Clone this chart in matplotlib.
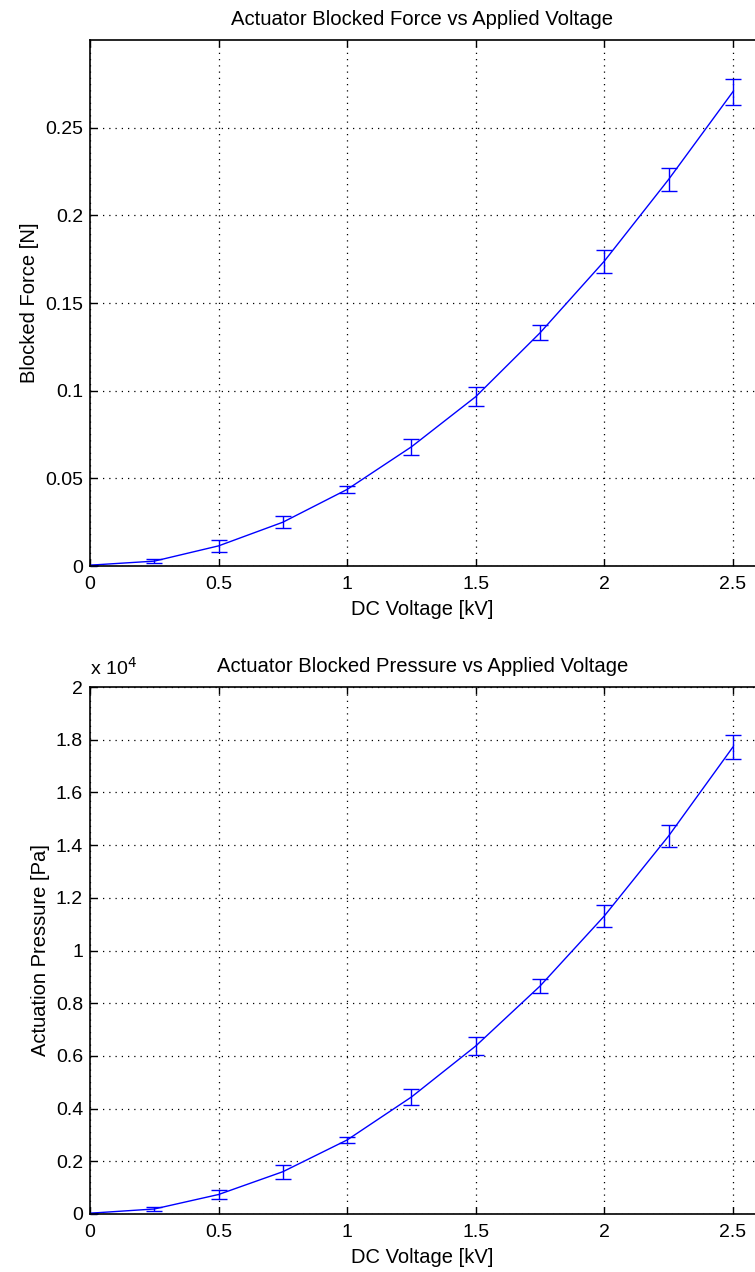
import matplotlib
matplotlib.use("Agg")
import matplotlib.pyplot as plt

plt.rcParams["font.family"] = ["Liberation Sans", "DejaVu Sans"]
plt.rcParams["font.size"] = 14

# data
voltage = [0, 0.25, 0.5, 0.75, 1.0, 1.25, 1.5, 1.75, 2.0, 2.25, 2.5]
force = [0.0005, 0.0028, 0.0115, 0.0250, 0.0437, 0.0680, 0.0966, 0.1330, 0.1739, 0.2205, 0.2705]
force_err = [0.0003, 0.0010, 0.0034, 0.0035, 0.0022, 0.0045, 0.0055, 0.0043, 0.0065, 0.0066, 0.0073]
pressure = [30, 190, 740, 1605, 2810, 4440, 6376, 8650, 11310, 14345, 17720]
pressure_err = [20, 70, 170, 265, 130, 300, 330, 280, 420, 435, 455]

x_ticks = [0, 0.5, 1, 1.5, 2, 2.5]
x_labels = ["0", "0.5", "1", "1.5", "2", "2.5"]
f_ticks = [0, 0.05, 0.1, 0.15, 0.2, 0.25]
f_labels = ["0", "0.05", "0.1", "0.15", "0.2", "0.25"]
p_ticks = [0, 2000, 4000, 6000, 8000, 10000, 12000, 14000, 16000, 18000, 20000]
p_labels = ["0", "0.2", "0.4", "0.6", "0.8", "1", "1.2", "1.4", "1.6", "1.8", "2"]

fig = plt.figure(figsize=(7.55, 12.72), dpi=100)
ax1 = fig.add_axes([0.1192, 0.555, 0.8808, 0.4135])
ax2 = fig.add_axes([0.1192, 0.0456, 0.8808, 0.4143])


def style(ax):
    ax.set_xlim(0, 2.586)
    ax.set_xticks(x_ticks)
    ax.set_xticklabels(x_labels)
    ax.grid(True, color="black", linestyle=(0, (1, 4)), linewidth=0.9)
    ax.tick_params(direction="in", top=True, right=False, length=5, width=1,
                   labelsize=14, pad=5)
    ax.tick_params(axis="x", pad=7)
    ax.spines["right"].set_visible(False)
    for s in ["left", "bottom", "top"]:
        ax.spines[s].set_linewidth(1.2)


ax1.errorbar(voltage, force, yerr=force_err, color="blue", lw=1, capsize=6, elinewidth=1, capthick=1)
style(ax1)
ax1.set_ylim(0, 0.3)
ax1.set_yticks(f_ticks)
ax1.set_yticklabels(f_labels)
ax1.set_title("Actuator Blocked Force vs Applied Voltage", fontsize=14.6, pad=11)
ax1.set_xlabel("DC Voltage [kV]", fontsize=14.5, labelpad=5)
ax1.set_ylabel("Blocked Force [N]", fontsize=14.5, labelpad=4)

ax2.errorbar(voltage, pressure, yerr=pressure_err, color="blue", lw=1, capsize=6, elinewidth=1, capthick=1)
style(ax2)
ax2.set_ylim(0, 20000)
ax2.set_yticks(p_ticks)
ax2.set_yticklabels(p_labels)
ax2.set_title("Actuator Blocked Pressure vs Applied Voltage", fontsize=14.6, pad=11)
ax2.set_xlabel("DC Voltage [kV]", fontsize=14.5, labelpad=5)
ax2.set_ylabel("Actuation Pressure [Pa]", fontsize=14.5, labelpad=4)
ax2.text(0.0, 1.015, r"x 10$^{4}$", transform=ax2.transAxes, ha="left", va="bottom",
         fontsize=14)

fig.savefig("out.png", dpi=100)
